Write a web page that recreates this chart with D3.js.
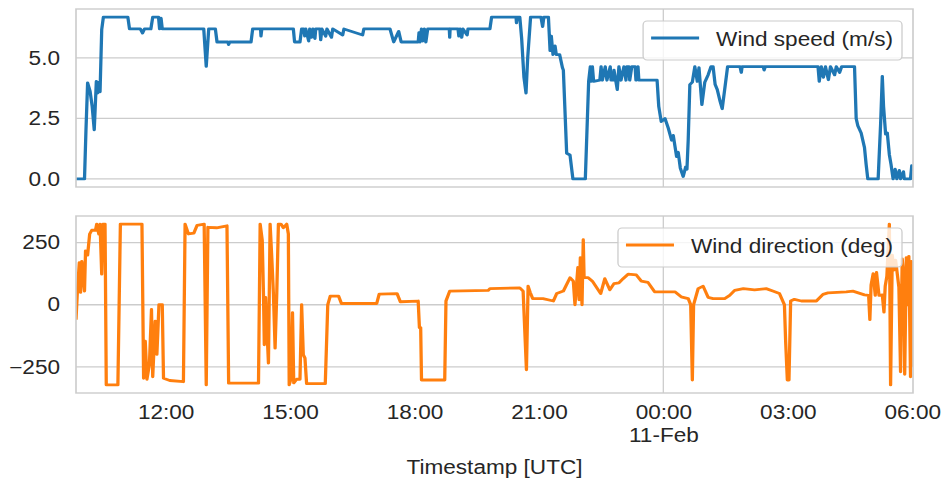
<!DOCTYPE html>
<html>
<head>
<meta charset="utf-8">
<script src="https://cdn.jsdelivr.net/npm/d3@7"></script>
<style>
  html, body { margin: 0; padding: 0; background: #fff; }
  svg { display: block; }
</style>
</head>
<body>
<svg id="chart"></svg>
<script>
// Wind record, hours counted from 10-Feb 00:00 UTC
const speedHours = [9.84,10.045,10.08,10.12,10.18,10.23,10.28,10.33,10.36,10.40,10.42,10.46,10.50,11.09,11.13,11.39,11.445,11.49,11.645,11.69,11.83,11.855,11.89,11.92,12.92,12.98,13.04,13.20,13.24,13.50,13.52,13.545,14.06,14.10,14.29,14.30,14.32,15.08,15.11,15.24,15.28,15.33,15.355,15.38,15.45,15.475,15.52,15.55,15.60,15.62,15.72,15.74,15.77,15.86,15.89,16.0,16.03,16.27,16.30,16.75,16.78,17.41,17.50,17.62,17.68,18.09,18.11,18.13,18.17,18.20,18.24,18.275,18.32,18.84,18.85,18.86,19.05,19.07,19.10,19.14,19.17,19.27,19.29,19.82,19.86,20.45,20.46,20.48,20.54,20.585,20.64,20.69,20.73,20.80,21.05,21.09,21.12,21.23,21.27,21.30,21.34,21.39,21.42,21.50,21.57,21.59,21.67,21.75,21.82,22.12,22.20,22.24,22.26,22.29,22.32,22.47,22.50,22.53,22.60,22.64,22.72,22.74,22.79,22.81,22.89,22.93,22.98,23.05,23.10,23.12,23.17,23.19,23.24,23.32,23.34,23.39,23.41,23.85,23.89,23.95,24.04,24.12,24.20,24.24,24.32,24.36,24.41,24.48,24.54,24.57,24.60,24.64,24.70,24.76,24.82,24.86,24.93,25.0,25.08,25.15,25.20,25.25,25.30,25.37,25.42,25.48,25.55,25.85,25.88,25.90,26.41,26.43,26.46,27.73,27.76,27.81,27.86,27.91,27.98,28.03,28.13,28.17,28.25,28.30,28.61,28.65,28.69,28.77,28.85,28.89,28.93,29.18,29.24,29.28,29.31,29.36,29.40,29.45,29.49,29.54,29.59,29.63,29.69,29.72,29.79,29.81,29.96,29.99,30.02];
const speedValues = [0,0,2.0,3.97,3.62,3.0,2.03,4.03,3.55,4.0,3.6,6.17,6.69,6.69,6.2,6.2,6.03,6.2,6.2,6.69,6.69,6.2,6.65,6.2,6.2,4.65,6.2,6.2,5.66,5.66,5.55,5.66,5.66,6.2,6.2,5.9,6.2,6.2,5.66,5.66,6.2,6.2,5.9,6.2,5.7,6.2,5.85,6.2,5.8,6.2,6.2,5.75,6.2,5.9,6.2,5.85,6.2,5.95,6.2,5.95,6.2,6.2,5.66,6.1,5.66,5.66,6.05,5.66,6.2,5.7,6.2,5.66,6.2,6.2,5.85,6.2,6.2,5.9,6.2,5.85,6.2,5.95,6.2,6.2,6.69,6.69,6.45,6.69,6.69,5.8,4.2,3.55,5.0,6.69,6.69,6.3,6.69,6.69,5.3,5.9,5.14,5.5,5.14,5.14,4.59,4.5,1.06,0.99,0,0,4.03,4.64,4.03,4.64,4.03,4.08,4.64,4.08,4.64,4.08,4.64,4.08,4.08,4.5,3.69,4.64,4.08,4.64,4.08,4.64,4.64,4.08,4.64,4.64,4.08,4.64,4.08,4.08,3.0,2.37,2.5,2.1,1.6,1.8,0.92,1.1,0.45,0.1,0.5,0.4,1.6,3.9,4.0,4.64,4.03,4.6,3.07,4.0,4.3,4.64,4.64,3.9,3.7,3.2,2.9,3.7,4.64,4.64,4.4,4.64,4.64,4.5,4.64,4.64,4.03,4.64,4.2,4.64,4.1,4.64,4.3,4.64,4.4,4.64,4.64,2.5,2.2,1.9,1.3,0.6,0,0,2.3,4.24,3.0,1.85,1.9,1.0,0.6,0,0.4,0,0.35,0,0.3,0,0,0.55,0.3];

const dirHours = [9.84,9.87,9.92,9.95,9.98,10.045,10.07,10.12,10.17,10.22,10.31,10.34,10.39,10.42,10.46,10.49,10.54,10.57,10.85,10.91,11.43,11.47,11.51,11.55,11.61,11.66,11.69,11.75,11.79,11.84,11.92,11.95,12.10,12.43,12.47,12.55,12.68,12.76,12.93,12.98,13.02,13.23,13.48,13.52,14.24,14.28,14.33,14.36,14.38,14.41,14.48,14.52,14.56,14.60,14.64,14.68,14.72,14.78,14.84,14.92,14.96,14.98,15.02,15.06,15.09,15.16,15.24,15.28,15.32,15.36,15.40,15.85,15.91,15.97,16.17,16.24,17.09,17.15,17.58,17.66,18.09,18.12,18.15,18.17,18.73,18.76,18.85,19.78,19.82,20.54,20.62,20.70,20.74,20.79,20.85,21.10,21.35,21.43,21.59,21.75,21.83,21.87,21.94,21.97,22.00,22.04,22.07,22.09,22.19,22.29,22.37,22.49,22.59,22.71,22.81,22.93,23.03,23.15,23.35,23.47,23.63,23.79,24.28,24.43,24.60,24.66,24.70,24.73,24.84,24.96,25.08,25.20,25.48,25.60,25.72,25.93,26.20,26.48,26.64,26.80,26.92,26.95,26.99,27.03,27.07,27.16,27.33,27.69,27.85,27.97,28.41,28.57,28.85,28.95,28.98,29.01,29.06,29.11,29.14,29.20,29.28,29.32,29.35,29.39,29.45,29.48,29.52,29.56,29.60,29.64,29.68,29.72,29.76,29.80,29.82,29.86,29.89,29.92,29.96,29.98,30.02];
const dirValues = [-60,42,170,50,175,55,217,200,285,300,300,325,285,325,123,325,325,-323,-323,325,325,-296,-147,-300,-240,-19,-290,-66,-200,0,0,-296,-305,-310,325,285,288,320,325,-323,312,310,318,-316,-316,325,260,42,-161,30,-235,325,190,42,-175,42,325,325,310,325,285,-323,-300,-32,-315,-300,-300,0,-201,-215,-318,-318,0,35,35,5,5,43,45,12,15,-92,-92,-303,-303,15,55,58,65,68,55,-262,75,50,25,25,15,45,55,109,95,0,150,20,190,0,262,109,109,95,75,45,105,60,85,88,105,123,120,95,90,52,52,32,25,0,-303,0,65,75,30,25,25,38,58,65,60,65,55,45,0,-150,-303,-303,15,22,15,15,42,48,52,55,40,38,-60,80,125,38,130,38,40,-30,75,115,325,-323,200,140,180,125,70,-270,185,110,-280,190,0,195,-290,175,-250];

const speedTicks = [0, 2.5, 5];
const dirTicks = [-250, 0, 250];
const speedLabel = "Wind speed (m/s)";
const dirLabel = "Wind direction (deg)";
const xAxisTitle = "Timestamp [UTC]";

const dayStart = Date.UTC(2021, 1, 10);
const toDate = h => new Date(dayStart + h * 3600e3);

// Figure geometry (glyphs are drawn slightly wide, so the viewBox is stretched)
const W = 946, H = 485, SX = 1.17;
const FONT = "'Liberation Sans', Arial, sans-serif";
const FS = 19.3;
const TEXT = "#262626";
const GRID = "#cccccc";
const LW = 2.8;
const left = 76 / SX, right = 913 / SX;

const svg = d3.select("#chart")
  .attr("width", W).attr("height", H)
  .attr("viewBox", `0 0 ${W / SX} ${H}`)
  .attr("preserveAspectRatio", "none")
  .style("font-family", FONT);

const allHours = speedHours.concat(dirHours);
const x = d3.scaleUtc()
  .domain(d3.extent(allHours).map(toDate))
  .range([left, right]);

function padded(values) {
  const [lo, hi] = d3.extent(values);
  const p = (hi - lo) * 0.05;
  return [lo - p, hi + p];
}

function panel(id, top, bottom, hours, values, ticks, fmt, color, label) {
  const y = d3.scaleLinear().domain(padded(values)).range([bottom, top]);
  const g = svg.append("g");

  g.append("clipPath").attr("id", "clip-" + id)
    .append("rect").attr("x", left).attr("y", top)
    .attr("width", right - left).attr("height", bottom - top);

  // horizontal grid
  g.append("g").selectAll("line").data(ticks).join("line")
    .attr("x1", left).attr("x2", right)
    .attr("y1", d => y(d)).attr("y2", d => y(d))
    .attr("stroke", GRID).attr("stroke-width", 1.3);

  // vertical grid on day boundaries
  g.append("g").selectAll("line").data(x.ticks(d3.utcDay.every(1))).join("line")
    .attr("x1", d => x(d)).attr("x2", d => x(d))
    .attr("y1", top).attr("y2", bottom)
    .attr("stroke", GRID).attr("stroke-width", 1.3 / SX);

  const pts = hours.map((h, i) => [toDate(h), values[i]]);
  g.append("path").datum(pts)
    .attr("clip-path", `url(#clip-${id})`)
    .attr("fill", "none").attr("stroke", color)
    .attr("stroke-width", LW).attr("stroke-linejoin", "round")
    .attr("d", d3.line().x(d => x(d[0])).y(d => y(d[1])));

  // frame
  g.append("rect").attr("x", left).attr("y", top)
    .attr("width", right - left).attr("height", bottom - top)
    .attr("fill", "none").attr("stroke", GRID).attr("stroke-width", 1.4);

  // y axis
  const ya = g.append("g").attr("transform", `translate(${left},0)`)
    .call(d3.axisLeft(y).tickValues(ticks).tickFormat(fmt).tickSize(0).tickPadding(16 / SX));
  ya.select(".domain").remove();
  ya.selectAll("text").attr("font-size", FS).attr("font-family", FONT).attr("fill", TEXT);

  // legend
  const lg = g.append("g");
  const box = lg.append("rect");
  const txt = lg.append("text").text(label)
    .attr("font-size", FS).attr("fill", TEXT).attr("font-family", FONT);
  const tw = txt.node().getComputedTextLength();
  const boxRight = 902 / SX;
  const textEnd = boxRight - 9 / SX;
  const textStart = textEnd - tw;
  const handleEnd = textStart - 17 / SX;
  const handleStart = handleEnd - 48 / SX;
  const boxLeft = handleStart - 8 / SX;
  const boxTop = top + 12;
  txt.attr("x", textStart).attr("y", boxTop + 25.5);
  box.attr("x", boxLeft).attr("y", boxTop)
    .attr("width", boxRight - boxLeft).attr("height", 39)
    .attr("rx", 4 / SX).attr("ry", 4)
    .attr("fill", "#fff").attr("fill-opacity", 0.8)
    .attr("stroke", GRID).attr("stroke-width", 1.1);
  lg.append("line")
    .attr("x1", handleStart).attr("x2", handleEnd)
    .attr("y1", boxTop + 17).attr("y2", boxTop + 17)
    .attr("stroke", color).attr("stroke-width", LW);
  return y;
}

panel("speed", 9, 187, speedHours, speedValues, speedTicks, d3.format(".1f"), "#1f77b4", speedLabel);
panel("dir", 216, 393, dirHours, dirValues, dirTicks, d3.format("d"), "#ff7f0e", dirLabel);

// time axis under the lower panel
const fmtTime = d3.utcFormat("%H:%M");
const fmtDay = d3.utcFormat("%d-%b");
const xa = svg.append("g").attr("transform", "translate(0,393)")
  .call(d3.axisBottom(x).ticks(d3.utcHour.every(3)).tickFormat(fmtTime).tickSize(0).tickPadding(12));
xa.select(".domain").remove();
xa.selectAll("text").attr("font-size", FS).attr("font-family", FONT).attr("fill", TEXT)
  .each(function (d) {
    if (d.getUTCHours() === 0) {
      const t = d3.select(this);
      t.text(null);
      t.append("tspan").attr("x", 0).attr("dy", "0.71em").text(fmtTime(d));
      t.append("tspan").attr("x", 0).attr("dy", "1.2em").text(fmtDay(d));
    }
  });

svg.append("text")
  .attr("x", (left + right) / 2).attr("y", 474)
  .attr("text-anchor", "middle")
  .attr("font-size", FS).attr("fill", TEXT)
  .text(xAxisTitle);
</script>
</body>
</html>
